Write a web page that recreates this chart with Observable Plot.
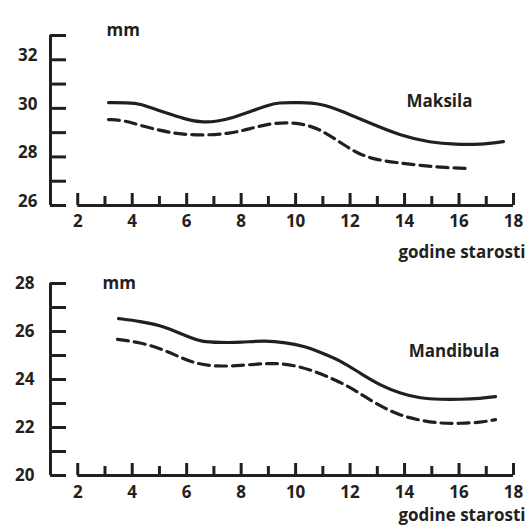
<!DOCTYPE html>
<html>
<head>
<meta charset="utf-8">
<script src="https://cdn.jsdelivr.net/npm/d3@7"></script>
<script src="https://cdn.jsdelivr.net/npm/@observablehq/plot@0.6"></script>
<style>
  html, body { margin: 0; padding: 0; background: #fff; }
  #wrap { width: 526px; }
  #wrap svg { display: block; }
</style>
</head>
<body>
<div id="wrap"></div>
<script>
// ---- tick labels ----
const xTickLabels = [2, 4, 6, 8, 10, 12, 14, 16, 18];
const xMinorTicks = [3, 5, 7, 9, 11, 13, 15, 17];
const maksilaYTicks = [26, 27, 28, 29, 30, 31, 32, 33];
const maksilaYLabels = [26, 28, 30, 32];
const mandibulaYTicks = [20, 21, 22, 23, 24, 25, 26, 27, 28];
const mandibulaYLabels = [20, 22, 24, 26, 28];
const xAxisTitle = "godine starosti";
const unitLabel = "mm";

// ---- Maksila (upper panel) ----
const maksilaSolidAge = [3.13, 4.19, 4.67, 5.30, 5.88, 6.51, 7.13, 7.72, 8.34, 8.97, 9.33, 10.18, 10.91, 11.65, 12.75, 13.85, 14.95, 15.87, 16.79, 17.63];
const maksilaSolidMm  = [30.24, 30.24, 30.03, 29.79, 29.58, 29.42, 29.46, 29.62, 29.87, 30.12, 30.24, 30.24, 30.20, 29.91, 29.38, 28.88, 28.59, 28.51, 28.51, 28.63];
const maksilaDashedAge = [3.13, 3.75, 4.30, 5.04, 5.59, 6.51, 7.61, 8.34, 9.08, 9.81, 10.36, 10.91, 11.65, 12.27, 12.93, 13.67, 14.59, 15.50, 16.42];
const maksilaDashedMm  = [29.54, 29.50, 29.29, 29.09, 28.96, 28.88, 28.96, 29.17, 29.38, 29.42, 29.33, 29.13, 28.59, 28.14, 27.89, 27.77, 27.65, 27.56, 27.52];

// ---- Mandibula (lower panel) ----
const mandibulaSolidAge = [3.50, 4.30, 5.04, 5.59, 6.14, 6.51, 7.24, 7.98, 8.89, 9.63, 10.36, 10.91, 11.65, 12.38, 13.12, 13.85, 14.59, 15.32, 16.05, 16.79, 17.34];
const mandibulaSolidMm  = [26.54, 26.42, 26.25, 26.00, 25.75, 25.58, 25.54, 25.54, 25.63, 25.54, 25.38, 25.13, 24.79, 24.25, 23.75, 23.42, 23.21, 23.17, 23.17, 23.21, 23.29];
const mandibulaDashedAge = [3.46, 4.30, 5.04, 5.77, 6.32, 7.06, 7.98, 8.89, 9.45, 10.18, 10.91, 11.65, 12.20, 12.75, 13.30, 13.85, 14.59, 15.32, 16.05, 16.79, 17.34];
const mandibulaDashedMm  = [25.67, 25.54, 25.29, 24.92, 24.67, 24.54, 24.58, 24.67, 24.67, 24.54, 24.25, 23.88, 23.54, 23.13, 22.79, 22.50, 22.29, 22.17, 22.17, 22.21, 22.33];

const ink = "#231f20";
const W = 526;
const ML = 50, MR = 13;
const xDomain = [1, 18];

function zip(xs, ys) { return xs.map((x, i) => ({x, y: ys[i]})); }

function panel(o) {
  const innerH = o.height - o.marginTop - o.marginBottom;
  const innerW = W - ML - MR;
  return Plot.plot({
    width: W,
    height: o.height,
    marginLeft: ML,
    marginRight: MR,
    marginTop: o.marginTop,
    marginBottom: o.marginBottom,
    x: {domain: xDomain},
    y: {domain: o.yDomain},
    style: {
      fontFamily: "'Open Sans', sans-serif",
      fontWeight: "700",
      fontSize: "17px",
      color: ink,
      background: "#fff",
      overflow: "visible"
    },
    marks: [
      Plot.ruleX([xDomain[0]], {stroke: ink, strokeWidth: 3}),
      Plot.tickY(o.yTicks, {y: d => d, stroke: ink, strokeWidth: 3, insetRight: innerW - 16}),
      Plot.ruleY([o.yDomain[0]], {x1: xTickLabels[0], x2: xTickLabels[xTickLabels.length - 1], stroke: ink, strokeWidth: 3}),
      Plot.tickX(xTickLabels, {x: d => d, stroke: ink, strokeWidth: 3, insetTop: innerH - 12}),
      Plot.tickX(xMinorTicks, {x: d => d, stroke: ink, strokeWidth: 3, insetTop: innerH - 9}),
      Plot.axisX({ticks: xTickLabels, tickSize: 0, tickPadding: o.xPad, tickFormat: "d", label: null, fill: ink}),
      Plot.axisY({ticks: o.yLabels, tickSize: 0, tickPadding: o.yPad, tickFormat: "d", label: null, dy: o.yLabelDy, fill: ink}),
      Plot.line(zip(o.solidAge, o.solidMm), {x: "x", y: "y", curve: "basis", stroke: ink, strokeWidth: 3.2}),
      Plot.line(zip(o.dashedAge, o.dashedMm), {x: "x", y: "y", curve: "basis", stroke: ink, strokeWidth: 3.2, strokeDasharray: "11,6"}),
      Plot.text([unitLabel], {text: d => d, frameAnchor: "top-left", lineAnchor: "middle", dx: o.mmDx, dy: o.mmDy, fill: ink}),
      Plot.text([o.title], {text: d => d, frameAnchor: "top-right", lineAnchor: "middle", textAnchor: "end", dx: o.titleDx, dy: o.titleDy, fill: ink}),
      Plot.text([xAxisTitle], {text: d => d, frameAnchor: "bottom-right", lineAnchor: "middle", textAnchor: "end", dx: 12, dy: o.xTitleDy, fill: ink})
    ]
  });
}

const maksilaChart = panel({
  height: 262, marginTop: 35, marginBottom: 57,
  yDomain: [26, 33], yTicks: maksilaYTicks, yLabels: maksilaYLabels, yLabelDy: -4, yPad: 13,
  solidAge: maksilaSolidAge, solidMm: maksilaSolidMm,
  dashedAge: maksilaDashedAge, dashedMm: maksilaDashedMm,
  title: "Maksila", titleDx: -41, titleDy: 66,
  mmDx: 56, mmDy: -5, xPad: 9, xTitleDy: 47
});
const mandibulaChart = panel({
  height: 263, marginTop: 21, marginBottom: 50,
  yDomain: [20, 28], yTicks: mandibulaYTicks, yLabels: mandibulaYLabels, yLabelDy: 0, yPad: 16,
  solidAge: mandibulaSolidAge, solidMm: mandibulaSolidMm,
  dashedAge: mandibulaDashedAge, dashedMm: mandibulaDashedMm,
  title: "Mandibula", titleDx: -14, titleDy: 68,
  mmDx: 52, mmDy: 0, xPad: 10, xTitleDy: 40
});
document.getElementById("wrap").append(maksilaChart, mandibulaChart);
</script>
</body>
</html>
